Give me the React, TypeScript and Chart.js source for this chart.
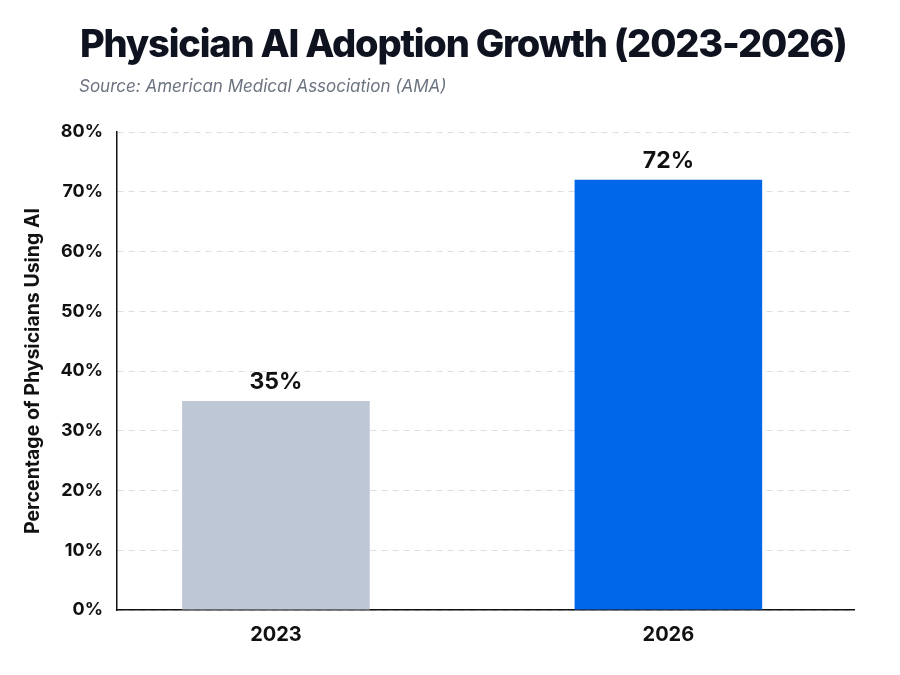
import React, { useEffect, useRef } from "react";
import { Chart, registerables } from "chart.js";

Chart.register(...registerables);

const years = ["2023", "2026"];
const adoption = [35, 72];
const barColors = ["#bec7d5", "#0067e8"];
const yTicks = [0, 10, 20, 30, 40, 50, 60, 70, 80];

const FONT = "Inter, 'Noto Sans', sans-serif";

const valueLabels = {
  id: "valueLabels",
  afterDatasetsDraw(chart: any) {
    const ctx = chart.ctx;
    const meta = chart.getDatasetMeta(0);
    ctx.save();
    ctx.font = `700 23px ${FONT}`;
    ctx.fillStyle = "#111111";
    ctx.textAlign = "center";
    ctx.textBaseline = "alphabetic";
    meta.data.forEach((bar: any, i: number) => {
      ctx.fillText(`${adoption[i]}%`, bar.x, bar.y - 12);
    });
    ctx.restore();
  },
};

export default function App() {
  const ref = useRef<HTMLCanvasElement | null>(null);

  useEffect(() => {
    document.body.style.margin = "0";
    if (!ref.current) return;
    const chart = new Chart(ref.current, {
      type: "bar",
      data: {
        datasets: [
          {
            data: adoption.map((v, i) => ({ x: i, y: v })),
            backgroundColor: barColors,
            borderWidth: 0,
            categoryPercentage: 1,
            barPercentage: 0.478,
          },
        ],
      },
      options: {
        animation: false,
        responsive: false,
        devicePixelRatio: 1,
        layout: { padding: { top: 132, left: 17, right: 46, bottom: 15 } },
        plugins: {
          legend: { display: false },
          tooltip: { enabled: false },
        },
        scales: {
          x: {
            type: "linear",
            offset: false,
            bounds: "ticks",
            min: -0.405,
            max: 1.473,
            afterBuildTicks: (s: any) => {
              s.ticks = years.map((_, i) => ({ value: i }));
            },
            ticks: {
              callback: (v: any) => years[v] ?? "",
              font: { family: FONT, size: 20, weight: "700" },
              color: "#111111",
              padding: 13,
              autoSkip: false,
              maxRotation: 0,
            },
            grid: { display: false, drawTicks: false, offset: false },
            border: { display: true, color: "#111111", width: 1.5 },
          },
          y: {
            min: 0,
            max: 80,
            afterBuildTicks: (s: any) => {
              s.ticks = yTicks.map((v) => ({ value: v }));
            },
            ticks: {
              callback: (v: any) => `${v}%`,
              font: { family: FONT, size: 18, weight: "700" },
              color: "#111111",
              padding: 14,
            },
            grid: { color: "#d9dee5", lineWidth: 1, drawTicks: false },
            border: { display: true, color: "#111111", width: 1.5, dash: [6, 5] },
            title: {
              display: true,
              text: "Percentage of Physicians Using AI",
              font: { family: FONT, size: 19.5, weight: "700" },
              color: "#111111",
              padding: { top: 4, bottom: 2 },
            },
          },
        },
      },
      plugins: [valueLabels],
    });
    return () => chart.destroy();
  }, []);

  return (
    <div style={{ position: "relative", width: 900, height: 675, background: "#ffffff", overflow: "hidden" }}>
      <canvas ref={ref} width={900} height={675} style={{ position: "absolute", left: 0, top: 0 }} />
      <div
        style={{
          position: "absolute",
          left: 80,
          top: 20,
          fontFamily: FONT,
          fontWeight: 800,
          fontSize: 38,
          lineHeight: "46px",
          color: "#0f1320",
          whiteSpace: "nowrap",
          letterSpacing: "-1.2px",
        }}
      >
        Physician AI Adoption Growth (2023-2026)
      </div>
      <div
        style={{
          position: "absolute",
          left: 79,
          top: 76,
          fontFamily: FONT,
          fontStyle: "italic",
          fontSize: 17,
          lineHeight: "20px",
          color: "#6b7280",
          whiteSpace: "nowrap",
        }}
      >
        Source: American Medical Association (AMA)
      </div>
    </div>
  );
}
